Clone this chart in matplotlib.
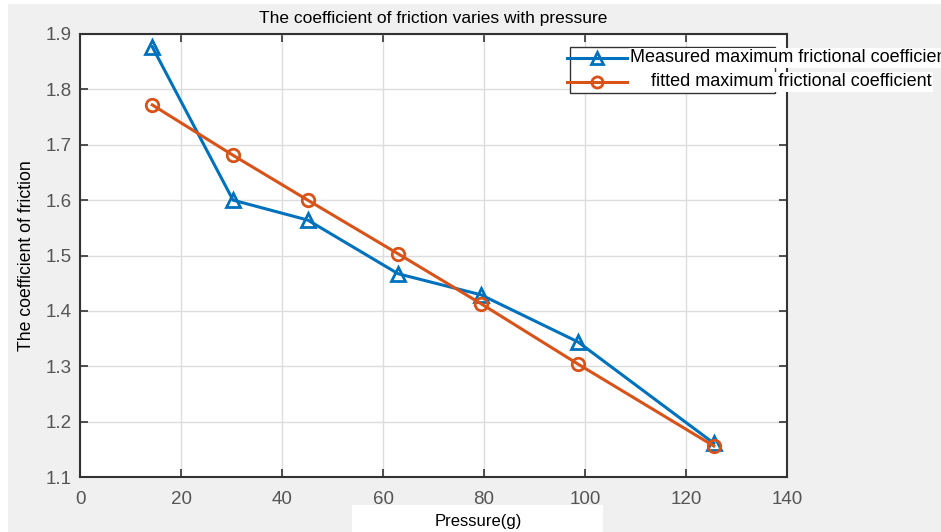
import matplotlib.pyplot as plt
from matplotlib.patches import Rectangle
from matplotlib.lines import Line2D

plt.rcParams['font.family'] = ['Liberation Sans', 'DejaVu Sans']

# 压力 (g) 与两组摩擦系数
pressure = [14.3, 30.3, 45.1, 63.0, 79.4, 98.6, 125.5]
measured = [1.877, 1.600, 1.564, 1.467, 1.429, 1.344, 1.161]
fitted = [1.772, 1.681, 1.600, 1.503, 1.413, 1.304, 1.156]

x_ticks = [0, 20, 40, 60, 80, 100, 120, 140]
y_ticks = [1.1, 1.2, 1.3, 1.4, 1.5, 1.6, 1.7, 1.8, 1.9]
labels = ['Measured maximum frictional coefficient',
          'fitted maximum frictional coefficient']

blue = '#0072BD'
orange = '#D95319'
W, H = 941, 532

fig = plt.figure(figsize=(9.41, 5.32), dpi=100, facecolor='#f0f0f0')

# 截图边缘的白色部分
fig.add_artist(Rectangle((0, 0), 8 / W, 1, transform=fig.transFigure,
                         facecolor='white', edgecolor='none', zorder=-1))
fig.add_artist(Rectangle((0, 1 - 4 / H), 1, 4 / H, transform=fig.transFigure,
                         facecolor='white', edgecolor='none', zorder=-1))
fig.add_artist(Rectangle((352 / W, 0), 251 / W, 27 / H, transform=fig.transFigure,
                         facecolor='white', edgecolor='none', zorder=-1))

ax = fig.add_axes([80 / W, 55 / H, 707 / W, 443 / H])

styles = [dict(color=blue, marker='^', ms=10), dict(color=orange, marker='o', ms=9)]
ax.plot(pressure, measured, lw=2.2, mfc='none', mew=2, **styles[0])
ax.plot(pressure, fitted, lw=2.2, mfc='none', mew=2, **styles[1])

ax.set_xlim(0, 140)
ax.set_ylim(1.1, 1.9)
ax.set_xticks(x_ticks)
ax.set_yticks(y_ticks)
ax.set_yticklabels([f'{v:.1f}' for v in y_ticks])
ax.grid(True, color='#dcdcdc', lw=1)
ax.set_axisbelow(True)
ax.tick_params(direction='in', top=True, right=True, length=6, width=1.2,
               labelsize=13.5, labelcolor='#555555', color='#333333')
ax.tick_params(axis='y', pad=6)
ax.tick_params(axis='x', pad=10)
for s in ax.spines.values():
    s.set_color('#333333')
    s.set_linewidth(1.5)

ax.set_title('The coefficient of friction varies with pressure', fontsize=12.5, pad=8)
ax.set_xlabel('Pressure(g)', fontsize=12)
ax.xaxis.set_label_coords(0.563, -0.084)
ax.set_ylabel('The coefficient of friction', fontsize=12.7)
ax.yaxis.set_label_coords(-0.064, 0.5)

# 图例：框比文字窄，文字超出框
fig.add_artist(Rectangle((570 / W, 1 - 93 / H), 205 / W, 46 / H,
                         transform=fig.transFigure, facecolor='white',
                         edgecolor='#333333', lw=1, zorder=4))
for i, (st, lab) in enumerate(zip(styles, labels)):
    y = 1 - (58 + 24 * i) / H
    fig.add_artist(Line2D([567 / W, 627 / W], [y, y], transform=fig.transFigure,
                          color=st['color'], lw=2.2, zorder=5))
    fig.add_artist(Line2D([597 / W], [y], transform=fig.transFigure,
                          color=st['color'], marker=st['marker'], ms=st['ms'] - 1,
                          mfc='none', mew=2, zorder=5))
    fig.text(791 / W, y, lab, ha='center', va='center', fontsize=13, zorder=6,
             bbox=dict(facecolor='white', edgecolor='none', pad=1))

fig.savefig('out.png', dpi=100, facecolor=fig.get_facecolor())
